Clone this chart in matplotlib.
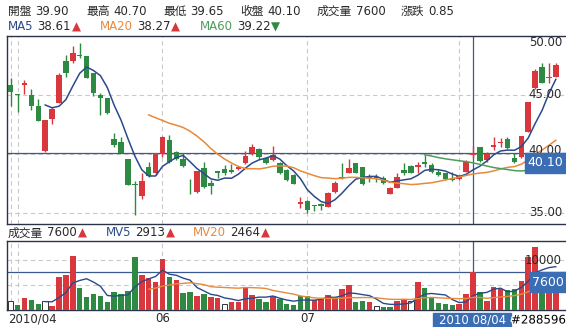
import numpy as np
import pandas as pd
import matplotlib
matplotlib.use("Agg")
import matplotlib.pyplot as plt
import matplotlib.transforms as mtransforms
import matplotlib.patheffects as pe
from matplotlib.patches import Rectangle

plt.rcParams['font.family'] = ['DejaVu Sans', 'Noto Sans CJK TC']

"------------------------------------------DATA-------------------------------------------"
# daily OHLC, 2010/04/30 .. 2010/08/20
opens = [45.85, 45.05, 45.85, 45.00, 44.06, 40.26, 42.96, 44.34, 47.88, 47.91,
         48.35, 48.31, 46.84, 45.00, 44.72, 41.23, 40.98, 39.53, 37.45, 36.44,
         38.85, 38.34, 39.98, 41.17, 40.18, 39.53, 37.45, 36.78, 38.79, 37.54,
         38.54, 38.68, 38.62, 38.68, 39.24, 40.09, 40.38, 39.62, 39.47, 39.24,
         38.62, 38.20, 35.73, 35.99, 35.65, 35.73, 35.51, 36.78, 38.05, 38.39,
         39.24, 38.90, 38.05, 38.00, 37.97, 36.58, 37.07, 38.62, 38.96, 38.85,
         39.33, 39.05, 38.48, 38.34, 37.92, 37.83, 38.48, 39.90, 40.55, 39.47,
         40.55, 40.90, 41.23, 39.62, 39.70, 41.88, 45.56, 47.40, 46.45, 46.50]
highs = [46.41, 45.05, 46.27, 45.48, 44.63, 42.87, 43.95, 46.84, 48.39, 49.16,
         49.39, 48.31, 46.84, 45.19, 44.72, 41.79, 41.40, 39.53, 37.71, 38.39,
         39.28, 40.09, 41.51, 41.60, 40.26, 40.04, 37.83, 38.56, 39.33, 37.77,
         38.54, 39.01, 39.10, 39.00, 40.24, 40.83, 40.47, 39.70, 40.66, 39.33,
         38.68, 38.28, 36.36, 36.07, 35.65, 35.82, 36.78, 37.71, 39.19, 39.53,
         39.24, 38.90, 38.28, 38.28, 38.13, 37.20, 38.34, 39.19, 39.04, 39.33,
         39.90, 39.24, 38.68, 38.39, 38.48, 38.20, 39.47, 40.70, 40.55, 40.18,
         41.45, 41.32, 41.40, 40.04, 41.51, 44.43, 47.18, 47.74, 47.74, 47.69]
lows = [44.06, 43.58, 45.08, 43.72, 42.81, 40.13, 42.53, 44.29, 46.55, 47.69,
        48.11, 46.47, 44.91, 43.30, 43.40, 40.60, 40.09, 37.35, 34.80, 36.13,
        38.05, 38.17, 39.75, 39.24, 39.46, 38.90, 36.58, 36.70, 37.10, 36.58,
        37.92, 38.22, 38.40, 38.60, 39.13, 39.90, 39.55, 39.13, 39.41, 38.28,
        37.71, 37.43, 35.37, 34.94, 35.10, 35.20, 35.46, 36.70, 37.86, 38.34,
        38.34, 37.35, 37.63, 37.60, 37.40, 36.58, 37.07, 38.20, 38.34, 38.34,
        38.90, 38.39, 38.14, 37.77, 37.71, 37.77, 38.48, 39.65, 39.33, 39.33,
        40.32, 40.60, 40.38, 39.19, 39.62, 41.88, 45.48, 45.99, 46.04, 46.50]
closes = [45.28, 44.97, 46.04, 44.06, 42.81, 42.87, 43.78, 46.69, 46.89, 48.54,
          48.30, 46.47, 45.19, 44.72, 43.49, 40.75, 40.09, 37.35, 37.32, 37.71,
          38.11, 40.09, 41.45, 39.28, 39.53, 38.96, 37.40, 38.56, 37.17, 37.29,
          38.34, 38.34, 38.48, 38.90, 39.81, 40.55, 39.70, 39.24, 39.90, 38.39,
          37.77, 37.43, 35.93, 35.22, 35.56, 35.56, 36.64, 37.54, 37.92, 38.77,
          38.34, 37.43, 37.92, 37.95, 37.54, 37.07, 38.00, 38.39, 38.39, 39.04,
          39.13, 38.48, 38.20, 37.83, 37.77, 38.14, 39.33, 40.10, 39.41, 39.98,
          40.75, 40.97, 40.47, 39.33, 41.51, 44.43, 47.06, 46.04, 46.55, 47.54]
volumes = [1920, 1060, 2400, 2060, 1260, 1920, 860, 6600, 7060, 10920,
           4390, 2600, 3260, 2860, 1720, 3720, 3260, 3920, 10720, 7060,
           6400, 5730, 10260, 6600, 6060, 3520, 3720, 2860, 3260, 2600,
           2400, 1260, 1720, 1720, 4390, 3060, 2260, 1720, 2860, 2200,
           1260, 1060, 2860, 2860, 2060, 2260, 3060, 2720, 4260, 5060,
           1720, 1920, 1720, 860, 720, 720, 1860, 2200, 1920, 5730,
           4390, 2600, 1400, 1250, 1100, 1350, 3300, 7600, 3720, 1920,
           4600, 4260, 4060, 4200, 5860, 10600, 12720, 7000, 6500, 6800]
# volume bar colour: r = up, g = down, w = unchanged
vol_dir = "wgrggwrrrrgggggggggrrrrgrggrgrrwrrrrggrgggggrrrrrrggrwggrrwrgggggrrrgrrrggrrrgrr"

month_idx = [0, 1, 22, 43, 65]
month_labels = ['2010/04', '', '06', '07', '']
sel = 67  # 2010 08/04

price_ticks = [50, 45, 40, 35]
vol_grid = [5000, 10000]
vol_labels = [10000]

head1 = [('開盤', '39.90'), ('最高', '40.70'), ('最低', '39.65'),
         ('收盤', '40.10'), ('成交量', '7600'), ('漲跌', '0.85')]
head1_x = [8, 86, 163, 240, 317, 401]
ma_text = [('MA5', '38.61', '▲'), ('MA20', '38.27', '▲'), ('MA60', '39.22', '▼')]
ma_x = [8, 100, 200]
vol_text = [('成交量', '7600', '▲'), ('MV5', '2913', '▲'), ('MV20', '2464', '▲')]
vol_x = [8, 106, 193]

"---------------------------------------STYLE---------------------------------------------"
RED = '#d8383d'
GREEN = '#2e8a42'
C_MA5 = '#2b4a8b'
C_MA20 = '#e8893b'
C_MA60 = '#4f9c5a'
BLUE = '#3a6db3'
LINE = '#3a5a8f'
FRAME = '#2b3447'
GRID = '#c9c9c9'
TXT = '#2a2a2a'
FS = 8.5

W, H = 566, 327
fig = plt.figure(figsize=(W / 100, H / 100), dpi=100)
ax = fig.add_axes([7 / W, 1 - 223.5 / H, (W - 7) / W, (223.5 - 36) / H])
axv = fig.add_axes([7 / W, 1 - 310.3 / H, (W - 7) / W, (310.3 - 241) / H])

n = len(closes)
x = np.arange(n)
o, h, l, c = map(np.array, (opens, highs, lows, closes))
up = c >= o
cols = np.where(up, RED, GREEN)

"-------------------------------------PRICE PANEL------------------------------------------"
ax.vlines(x, l, h, colors=cols, lw=1, zorder=3)
body = np.maximum(np.abs(c - o), 0.07)
ax.bar(x, body, bottom=np.minimum(o, c), width=0.8, color=cols, zorder=3)

cs = pd.Series(closes)
for N, col in [(5, C_MA5), (20, C_MA20), (60, C_MA60)]:
    ma = cs.rolling(N).mean()
    ma[:N] = np.nan
    ax.plot(x, ma, color=col, lw=1.1, zorder=4)

ax.set_xlim(-0.536, 80.48)
ax.set_ylim(34.08, 50.01)
for t in price_ticks:
    ax.axhline(t, color=GRID, lw=0.8, dashes=(4, 3), zorder=1)
for m in month_idx:
    ax.axvline(m, color=GRID, lw=0.8, dashes=(4, 3), zorder=1)
ax.axhline(closes[sel], color=LINE, lw=0.9, zorder=2)
ax.axvline(sel, color=LINE, lw=0.9, zorder=2)

trans = mtransforms.blended_transform_factory(ax.transAxes, ax.transData)
xr = (562 - 7) / (W - 7)
ppu = 187.5 / (50.01 - 34.08)
for t in price_ticks:
    if t == price_ticks[0]:
        ax.text(xr, t, '%.2f' % t, transform=trans, ha='right', va='top',
                fontsize=FS, color=TXT, zorder=5)
    else:
        # 40.00 sits a little above its line, half under the price box
        ax.text(xr, t + (3 / ppu if t == 40 else 0), '%.2f' % t, transform=trans,
                ha='right', va='center', fontsize=FS, color=TXT, zorder=5)
# current price box
x0 = (525 - 7) / (W - 7)
ax.add_patch(Rectangle((x0, closes[sel] - 20 / ppu), 1 - x0, 20 / ppu,
                       transform=trans, color=BLUE, zorder=6, clip_on=False))
ax.text((x0 + 1) / 2, closes[sel] - 10 / ppu, '%.2f' % closes[sel], transform=trans,
        ha='center', va='center', color='white', fontsize=FS + 0.5, zorder=7)

"-------------------------------------VOLUME PANEL------------------------------------------"
vcol = {'r': RED, 'g': GREEN, 'w': 'white'}
for i in range(n):
    d = vol_dir[i]
    axv.bar(x[i], volumes[i], width=0.8, color=vcol[d],
            edgecolor='#333333' if d == 'w' else vcol[d], lw=0.7 if d == 'w' else 0, zorder=3)
vs = pd.Series(volumes, dtype=float)
for N, col in [(5, C_MA5), (20, C_MA20)]:
    mv = vs.rolling(N).mean()
    mv[:N] = np.nan
    axv.plot(x, mv, color=col, lw=1.0, zorder=4)

axv.set_xlim(-0.536, 80.48)
axv.set_ylim(0, 13860)
for t in vol_grid:
    axv.axhline(t, color=GRID, lw=0.8, dashes=(4, 3), zorder=1)
for m in month_idx:
    axv.axvline(m, color=GRID, lw=0.8, dashes=(4, 3), zorder=1)
axv.axhline(volumes[sel], color=LINE, lw=0.9, zorder=2)
axv.axvline(sel, color=LINE, lw=0.9, zorder=2)

transv = mtransforms.blended_transform_factory(axv.transAxes, axv.transData)
for t in vol_labels:
    axv.text(xr, t, str(t), transform=transv, ha='right', va='center',
             fontsize=FS, color=TXT, zorder=5)
vpu = 69.3 / 13860
x1 = (530 - 7) / (W - 7)
axv.add_patch(Rectangle((x1, volumes[sel] - 20 / vpu), 1 - x1, 20 / vpu,
                        transform=transv, color=BLUE, zorder=6, clip_on=False))
axv.text((x1 + 1) / 2, volumes[sel] - 10 / vpu, str(volumes[sel]), transform=transv,
         ha='center', va='center', color='white', fontsize=FS + 0.5, zorder=7)

for a in (ax, axv):
    a.set_xticks([])
    a.set_yticks([])
    for s in ('top', 'left', 'bottom'):
        a.spines[s].set_color(FRAME)
        a.spines[s].set_linewidth(1)
    a.spines['right'].set_visible(False)
    a.patch.set_alpha(0)

"-------------------------------------TEXTS------------------------------------------------"
renderer = fig.canvas.get_renderer()


def chain(x_px, y_px, parts):
    # parts: (text, colour, gap after)
    for txt, col, gap in parts:
        t = fig.text(x_px / W, 1 - y_px / H, txt, color=col, fontsize=FS,
                     ha='left', va='center')
        x_px += t.get_window_extent(renderer=renderer).width + gap


for (lab, val), xp in zip(head1, head1_x):
    chain(xp, 11.5, [(lab, TXT, 4), (val, TXT, 0)])

for (lab, val, arr), xp, col in zip(ma_text, ma_x, [C_MA5, C_MA20, C_MA60]):
    chain(xp, 27, [(lab, col, 4), (val, TXT, 0.5), (arr, RED if arr == '▲' else GREEN, 0)])

for (lab, val, arr), xp, col in zip(vol_text, vol_x, [TXT, C_MA5, C_MA20]):
    chain(xp, 233, [(lab, col, 4), (val, TXT, 0.5), (arr, RED, 0)])

# month labels under the volume panel
for m, lab in zip(month_idx, month_labels):
    if not lab:
        continue
    xf = axv.transData.transform((m, 0))[0] / W
    if m == 0:
        fig.text(8 / W, 1 - 319 / H, lab, ha='left', va='center', fontsize=FS, color=TXT)
    else:
        fig.text(xf, 1 - 319 / H, lab, ha='center', va='center', fontsize=FS, color=TXT)

# selected date box
fig.patches.append(Rectangle((433 / W, 0), 78 / W, 14 / H, transform=fig.transFigure,
                             color=BLUE, zorder=5))
xs = axv.transData.transform((sel, 0))[0] / W
fig.text(xs, 1 - 320 / H, '2010 08/04', ha='center', va='center', fontsize=FS,
         color='white', zorder=6)
fig.text(511 / W, 1 - 320 / H, '#288596', ha='left', va='center', fontsize=FS,
         color='black', zorder=6,
         path_effects=[pe.withStroke(linewidth=2, foreground='white')])

plt.savefig('out.png', dpi=100)
